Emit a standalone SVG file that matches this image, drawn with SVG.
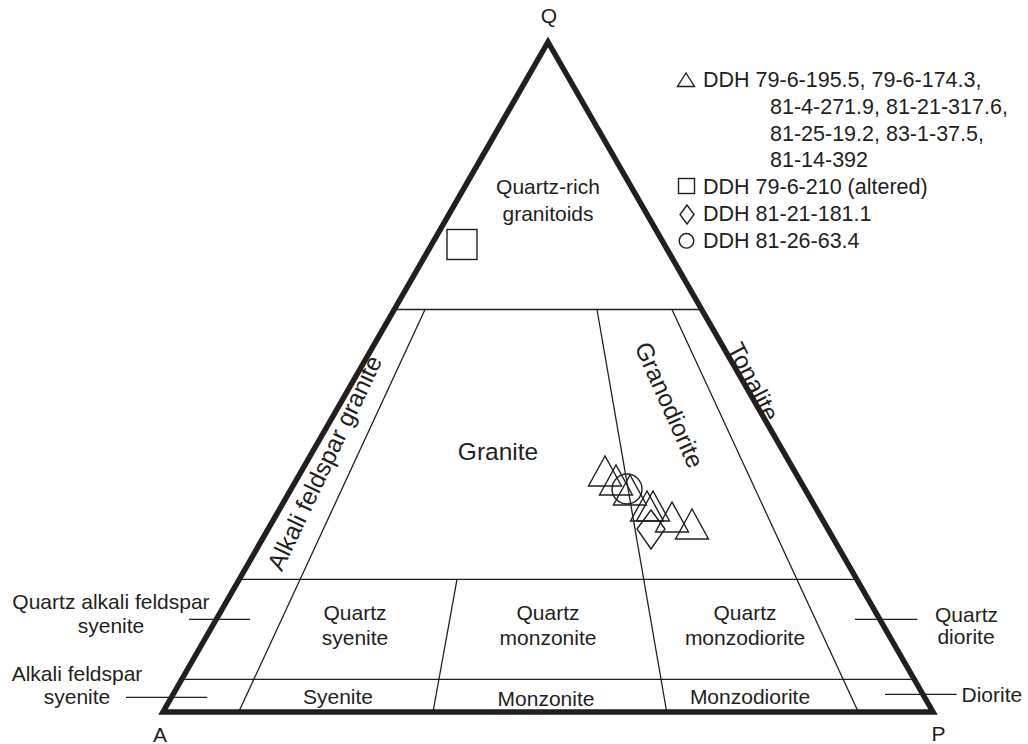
<svg xmlns="http://www.w3.org/2000/svg" width="1028" height="744" viewBox="0 0 1028 744">
<style>
text{font-family:"Liberation Sans",Arial,sans-serif;font-size:21px;fill:#231f20}
.c{text-anchor:middle}
.big{font-size:24.5px}
.leg{font-size:21.5px}
.thin{stroke:#231f20;stroke-width:1.3;fill:none}
.frame{stroke:#231f20;stroke-width:5.5;fill:none;stroke-linejoin:miter}
.sym{stroke:#231f20;stroke-width:1.4;fill:none}
</style>
<rect width="1028" height="744" fill="#fff"/>
<g id="connectors">
<line class="thin" x1="394.3" y1="309.5" x2="701.7" y2="309.5"/>
<line class="thin" x1="239.3" y1="579.3" x2="856.7" y2="579.3"/>
<line class="thin" x1="181.8" y1="679.3" x2="914.2" y2="679.3"/>
<line class="thin" x1="425" y1="309.5" x2="238.7" y2="712"/>
<line class="thin" x1="597" y1="309.5" x2="666.7" y2="712"/>
<line class="thin" x1="672" y1="309.5" x2="858.3" y2="712"/>
<line class="thin" x1="457" y1="579.3" x2="433" y2="712"/>
<line class="thin" x1="189" y1="619.3" x2="250" y2="619.3"/>
<line class="thin" x1="126" y1="697.3" x2="207.3" y2="697.3"/>
<line class="thin" x1="855" y1="619.3" x2="917.3" y2="619.3"/>
<line class="thin" x1="885" y1="694.3" x2="956.7" y2="694.3"/>
</g>
<g id="frame">
<polygon class="frame" points="548,42 933,712 163,712"/>
</g>
<g id="vertex-labels">
<text class="c" x="549" y="23">Q</text>
<text class="c" x="160" y="742">A</text>
<text class="c" x="938.5" y="741">P</text>
</g>
<g id="fields">
<text class="c" x="548" y="194">Quartz-rich</text>
<text class="c" x="548" y="220.5">granitoids</text>
<text class="c big" x="498" y="460">Granite</text>
<text class="c big" transform="translate(325,463) rotate(-64.5)" x="0" y="8">Alkali feldspar granite</text>
<text class="c big" transform="translate(669,405) rotate(66)" x="0" y="8">Granodiorite</text>
<text class="c big" transform="translate(753,382) rotate(63)" x="0" y="8">Tonalite</text>
<text class="c" x="355" y="620">Quartz</text>
<text class="c" x="355" y="645">syenite</text>
<text class="c" x="548" y="620">Quartz</text>
<text class="c" x="548" y="645">monzonite</text>
<text class="c" x="745" y="620">Quartz</text>
<text class="c" x="745" y="645">monzodiorite</text>
<text class="c" x="338" y="704">Syenite</text>
<text class="c" x="546" y="706">Monzonite</text>
<text class="c" x="750" y="704">Monzodiorite</text>
<text class="c" x="111" y="609">Quartz alkali feldspar</text>
<text class="c" x="111" y="633">syenite</text>
<text class="c" x="77" y="681">Alkali feldspar</text>
<text class="c" x="77" y="704">syenite</text>
<text class="c" x="966.5" y="622">Quartz</text>
<text class="c" x="966" y="644">diorite</text>
<text x="961.5" y="701.5">Diorite</text>
</g>
<g id="legend">
<polygon class="sym" points="686,73 677.5,86.5 694.5,86.5"/>
<text class="leg" x="703" y="87">DDH 79-6-195.5, 79-6-174.3,</text>
<text class="leg" x="770" y="113.8">81-4-271.9, 81-21-317.6,</text>
<text class="leg" x="770" y="140.6">81-25-19.2, 83-1-37.5,</text>
<text class="leg" x="770" y="167.4">81-14-392</text>
<rect class="sym" x="678.5" y="178.5" width="16" height="15"/>
<text class="leg" x="703" y="194.2">DDH 79-6-210 (altered)</text>
<polygon class="sym" points="687,205 694,214.5 687,224 680,214.5"/>
<text class="leg" x="703" y="221">DDH 81-21-181.1</text>
<circle class="sym" cx="686.5" cy="240.8" r="7.3"/>
<text class="leg" x="703" y="247.8">DDH 81-26-63.4</text>
</g>
<g id="data-points">
<rect class="sym" x="447" y="229.5" width="30" height="30"/>
<polygon class="sym" points="605,456 588.5,486 621.5,486"/>
<polygon class="sym" points="616,465 599.5,495 632.5,495"/>
<polygon class="sym" points="630,475 613.5,505 646.5,505"/>
<circle class="sym" cx="627" cy="489" r="15"/>
<polygon class="sym" points="647,491 630.5,521 663.5,521"/>
<polygon class="sym" points="653,491 636.5,521 669.5,521"/>
<polygon class="sym" points="651,510 665,529 651,549 637,529"/>
<polygon class="sym" points="672,502 655.5,532 688.5,532"/>
<polygon class="sym" points="692,509 675.5,539 708.5,539"/>
</g>
</svg>
